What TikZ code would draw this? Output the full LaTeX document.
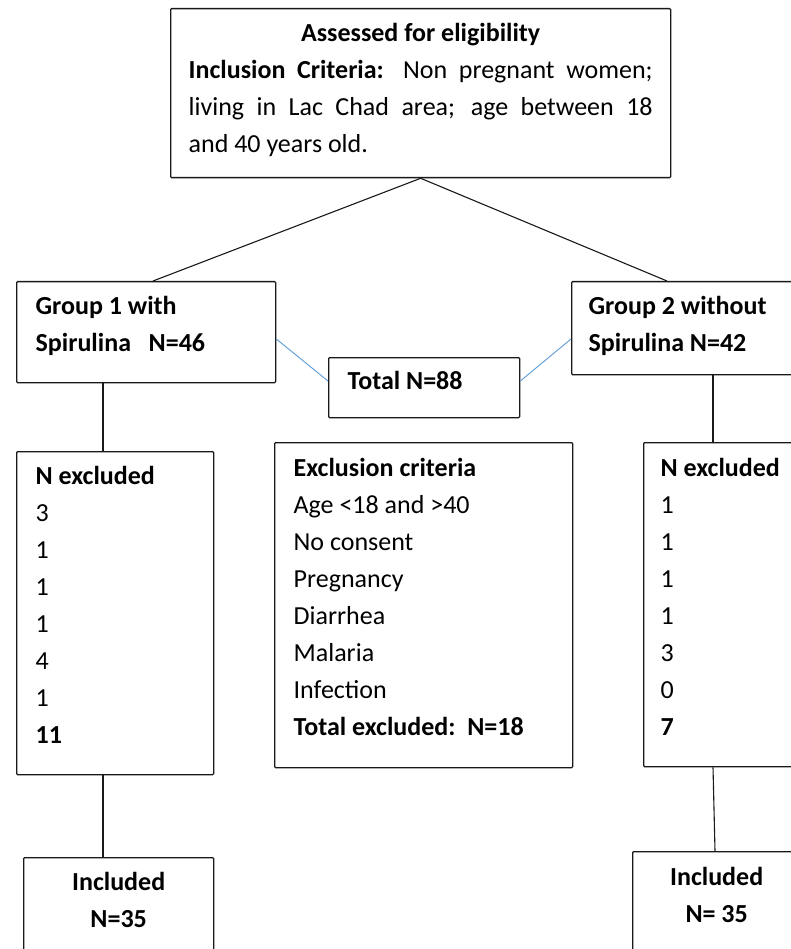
\documentclass[tikz,border=0pt]{standalone}
\usepackage{fontspec}
\setmainfont{Carlito}
\definecolor{linkblue}{RGB}{91,155,213}
\newcommand{\boxtext}[4]{\parbox[t][#2][t]{#1}{\raggedright\rule{0pt}{#3}#4}}
\newcommand{\midtext}[4]{\parbox[t][#2][t]{#1}{\centering\rule{0pt}{#3}#4}}

\begin{document}
\begin{tikzpicture}[x=1pt,y=-1pt,
  box/.style={draw=black!90, line width=1.3pt, rounded corners=1pt, anchor=north west,
    inner xsep=#1, inner ysep=0pt, font=\fontsize{26}{37}\selectfont},
  box/.default=19pt,
  link/.style={line width=1.1pt, draw=black!90},
  bluelink/.style={line width=0.9pt, draw=linkblue}]
\useasboundingbox (0,0) rectangle (791,949);
\fill[white] (0,0) rectangle (791,949);
\clip (0,0) rectangle (791,949);

% top box
\node[box=18pt] (top) at (170,8) {\parbox[t][169pt][t]{464pt}{%
  {\centering\rule{0pt}{33pt}\textbf{Assessed for eligibility}\par}
  \textbf{Inclusion Criteria:} Non pregnant women;\linebreak
  living in Lac Chad area; age between 18\linebreak
  and 40 years old.}};

% groups
\node[box] (g1) at (16,281) {\boxtext{221pt}{101pt}{33pt}{%
  \textbf{Group 1 with}\\\textbf{Spirulina\ \ \ N=46}}};
\node[box=17pt] (g2) at (571,281) {\boxtext{195pt}{93pt}{33pt}{%
  \textbf{Group 2 without}\\\textbf{Spirulina N=42}}};
\node[box] (total) at (328,357) {\boxtext{153pt}{60pt}{32pt}{\textbf{Total N=88}}};

% excluded
\node[box] (lex) at (16,451) {\boxtext{159pt}{323pt}{33pt}{%
  \textbf{N excluded}\\3\\1\\1\\1\\4\\1\\\textbf{11}}};
\node[box] (excl) at (274,442) {\boxtext{260pt}{325pt}{34pt}{%
  \textbf{Exclusion criteria}\\Age <18 and >40\\No consent\\Pregnancy\\
  Diarrhea\\Malaria\\Infection\\\textbf{Total excluded:\ \ N=18}}};
\node[box=17pt] (rex) at (643,442) {\boxtext{123pt}{324pt}{34pt}{%
  \textbf{N excluded}\\1\\1\\1\\1\\3\\0\\\textbf{7}}};

% included
\node[box=0pt] (linc) at (23,857) {\midtext{190pt}{113pt}{33pt}{%
  \textbf{Included}\\\textbf{N=35}}};
\node[box=0pt] (rinc) at (632,851) {\midtext{168pt}{119pt}{34pt}{%
  \textbf{Included}\\\textbf{N= 35}}};

% connectors
\draw[link] (top.south) -- ([xshift=137pt]g1.north west);
\draw[link] (top.south) -- ([xshift=96pt]g2.north west);
\draw[bluelink] ([yshift=-58pt]g1.north east) -- ([yshift=-24pt]total.north west);
\draw[bluelink] ([yshift=-24pt]total.north east) -- ([yshift=-58pt]g2.north west);
\draw[link] ([xshift=87pt]g1.south west) -- ([xshift=87pt]lex.north west);
\draw[link] ([xshift=87pt]lex.south west) -- ([xshift=80pt]linc.north west);
\draw[link] ([xshift=142pt]g2.south west) -- ([xshift=70pt]rex.north west);
\draw[link] ([xshift=70pt]rex.south west) -- ([xshift=83pt]rinc.north west);
\end{tikzpicture}
\end{document}
